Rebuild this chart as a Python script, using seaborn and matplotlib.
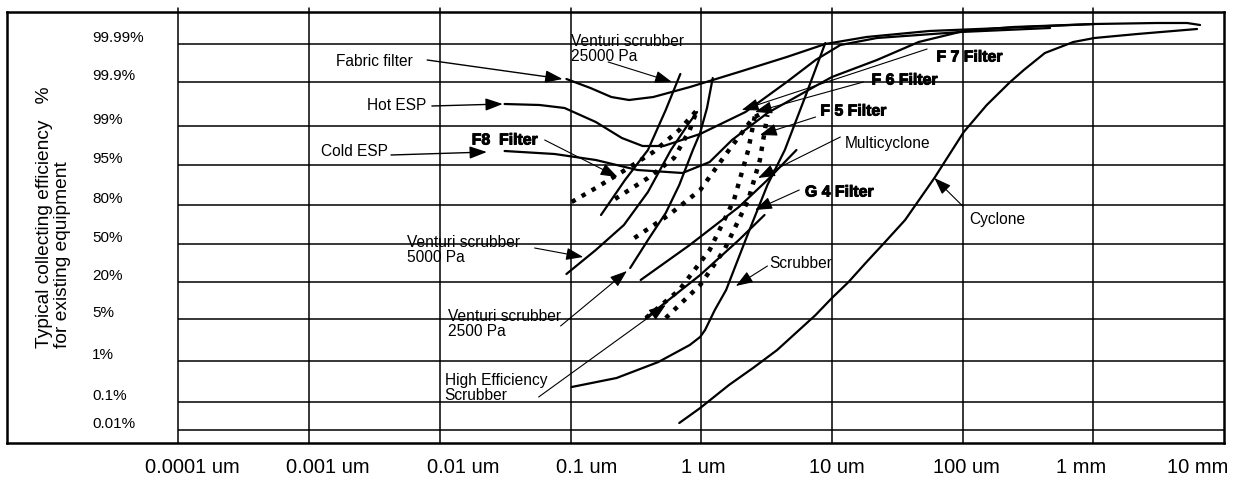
import matplotlib
matplotlib.use("Agg")
import matplotlib.pyplot as plt
import matplotlib.patheffects as pe
from matplotlib.transforms import ScaledTranslation
import seaborn as sns
import pandas as pd

sns.set_theme(style="white", rc={"axes.edgecolor": "black"})
plt.rcParams['font.family'] = ['Liberation Sans', 'DejaVu Sans']

# ---------------- axis definitions ----------------
x_tick_sizes = [1e-4, 1e-3, 1e-2, 1e-1, 1, 10, 100, 1000, 10000]
x_tick_labels = ["0.0001 um", "0.001 um", "0.01 um", "0.1 um", "1 um",
                 "10 um", "100 um", "1 mm", "10 mm"]
y_tick_labels = ["0.01%", "0.1%", "1%", "5%", "20%", "50%", "80%",
                 "95%", "99%", "99.9%", "99.99%"]
# chart efficiency scale: positions of the efficiency grid lines
y_tick_levels = [0.0, 0.70, 1.725, 2.775, 3.70, 4.65, 5.625, 6.625, 7.60, 8.70, 9.65]

# ---------------- curves (size in um, efficiency on chart scale) ----------------
fabric_size = [0.093, 0.142, 0.205, 0.28, 0.43, 0.82, 1.94, 4.51, 8.9, 18.4, 55.5, 202, 1020, 3080, 5220, 6560]
fabric_eff = [8.775, 8.55, 8.325, 8.25, 8.325, 8.575, 8.95, 9.325, 9.65, 9.825, 9.975, 10.05, 10.15, 10.175, 10.175, 10.125]

hot_esp_size = [0.0313, 0.058, 0.09, 0.156, 0.247, 0.356, 0.515, 0.98, 2.18, 4.51, 7.5, 11.6, 22.1, 96.4, 467]
hot_esp_eff = [8.15, 8.125, 8.05, 7.7, 7.3, 7.1, 7.1, 7.4, 7.95, 8.7, 9.25, 9.625, 9.8, 9.95, 10.05]

cold_esp_size = [0.0313, 0.0755, 0.156, 0.325, 0.718, 1.16, 1.72, 3.21, 7.5, 10, 22.1, 46.1, 102, 244, 1020]
cold_esp_eff = [6.975, 6.9, 6.75, 6.5, 6.425, 6.7, 7.25, 7.925, 8.6, 8.825, 9.25, 9.7, 9.975, 10.075, 10.15]

venturi25000_size = [0.171, 0.261, 0.391, 0.535, 0.692]
venturi25000_eff = [5.375, 6.25, 7.0, 8.0, 8.9]

venturi5000_size = [0.093, 0.156, 0.256, 0.391, 0.586, 0.787, 0.929]
venturi5000_eff = [3.9, 4.5, 5.125, 5.95, 7.0, 7.625, 7.95]

venturi2500_size = [0.286, 0.391, 0.535, 0.679, 0.863, 0.98, 1.107, 1.225]
venturi2500_eff = [4.05, 4.75, 5.425, 6.125, 7.0, 7.425, 8.05, 8.8]

he_scrubber_size = [0.102, 0.225, 0.47, 0.817, 0.98, 1.07, 1.27, 1.55, 2.29, 3.21, 4.36, 6.32, 8.9]
he_scrubber_eff = [1.075, 1.3, 1.7, 2.125, 2.325, 2.5, 3.0, 3.5, 4.925, 6.125, 7.0, 8.375, 9.675]

scrubber_size = [0.377, 0.982, 1.94, 3.05]
scrubber_eff = [2.8, 3.875, 4.75, 5.375]

multicyclone_size = [0.344, 0.817, 1.94, 3.21, 5.35]
multicyclone_eff = [3.75, 4.625, 5.575, 6.25, 7.0]

cyclone_size = [0.679, 0.982, 1.63, 2.49, 3.81, 7.5, 10, 13.4, 18.4, 25.1, 36.3, 60.8, 102, 153, 231, 294, 426, 703, 1020, 2170, 6220]
cyclone_eff = [0.175, 0.55, 1.125, 1.55, 2.0, 2.875, 3.3, 3.7, 4.2, 4.675, 5.25, 6.3, 7.45, 8.125, 8.7, 9.0, 9.425, 9.7, 9.8, 9.9, 10.025]

# dotted filter envelopes
f8_size = [0.102, 0.156, 0.247, 0.43, 0.679, 0.929, 0.817, 0.619, 0.391, 0.213]
f8_eff = [5.7, 6.05, 6.45, 6.95, 7.5, 8.0, 7.5, 6.8, 6.3, 5.75]

f7_size = [0.308, 0.565, 0.982, 1.63, 2.49, 3.21]
f7_eff = [4.8, 5.375, 6.0, 7.0, 7.8, 8.0]

g4_size = [0.377, 0.679, 1.16, 1.78, 2.29, 2.58]
g4_eff = [2.8, 3.5, 4.5, 5.75, 7.0, 7.875]

f5_size = [0.535, 0.982, 1.5, 2.29, 2.81, 3.21]
f5_eff = [2.8, 3.625, 4.5, 5.75, 6.75, 7.875]

solid_curves = [
    (fabric_size, fabric_eff), (hot_esp_size, hot_esp_eff), (cold_esp_size, cold_esp_eff),
    (venturi25000_size, venturi25000_eff), (venturi5000_size, venturi5000_eff),
    (venturi2500_size, venturi2500_eff), (he_scrubber_size, he_scrubber_eff),
    (scrubber_size, scrubber_eff), (multicyclone_size, multicyclone_eff),
    (cyclone_size, cyclone_eff),
]
dotted_curves = [(f8_size, f8_eff), (f7_size, f7_eff), (g4_size, g4_eff), (f5_size, f5_eff)]

# ---------------- figure ----------------
fig = plt.figure(figsize=(12.4, 4.82), dpi=100)
ax = fig.add_axes([7 / 1240, 1 - 443 / 482, (1224 - 7) / 1240, (443 - 12) / 482])
ax.set_xscale("log")
ax.set_xlim(10 ** -5.312, 1e4)
ax.set_ylim(-0.325, 10.45)

for s in ax.spines.values():
    s.set_color("black")
    s.set_linewidth(1.8)

# grid
for xv in x_tick_sizes[:-1]:
    ax.axvline(xv, ymin=0, ymax=1.01, color="black", lw=1.1, clip_on=False, zorder=1)
ax.hlines(y_tick_levels, x_tick_sizes[0], 1e4, color="black", lw=1.1, zorder=1)

# curves
for sx, sy in solid_curves:
    sns.lineplot(x=sx, y=sy, sort=False, estimator=None, ax=ax,
                 color="black", lw=1.6, zorder=3)
for sx, sy in dotted_curves:
    sns.lineplot(x=sx, y=sy, sort=False, estimator=None, ax=ax,
                 color="black", lw=3.2, zorder=3, dashes=False,
                 linestyle=(0, (1.0, 1.6)))

# ticks
ax.set_xticks(x_tick_sizes)
ax.set_xticklabels(x_tick_labels, fontsize=14.5, color="black")
ax.set_yticks([])
ax.tick_params(axis="x", length=0, pad=11)
label_shift_px = [14, 19, 23, 16, 2, 5, 4, -12, -26]
for lab, dx in zip(ax.get_xticklabels(), label_shift_px):
    lab.set_transform(lab.get_transform() + ScaledTranslation(dx / 100, 0, fig.dpi_scale_trans))
ax.set_xlabel("")
ax.set_ylabel("")

for lvl, txt in zip(y_tick_levels, y_tick_labels):
    ax.annotate(txt, xy=(0.07, lvl), xycoords=("axes fraction", "data"),
                xytext=(0, 4.5), textcoords="offset points",
                ha="left", va="center", fontsize=11, color="black")

ax.text(0.038, 0.523, "Typical collecting efficiency   %\nfor existing equipment",
        transform=ax.transAxes, rotation=90, ha="center", va="center",
        multialignment="left", fontsize=13.8, linespacing=1.1, color="black")

# annotations
def arrow(tip, start, lw=0.8):
    ax.annotate("", xy=tip, xytext=start,
                arrowprops=dict(arrowstyle="-|>,head_length=0.75,head_width=0.27",
                                lw=lw, color="black", shrinkA=0, shrinkB=0,
                                mutation_scale=14), zorder=4)

def label(pos, txt, bold=False):
    kw = dict(ha="left", va="center", fontsize=11.2, color="black", linespacing=0.95, zorder=5)
    if bold:
        kw.update(fontweight="bold", fontsize=11.4,
                  path_effects=[pe.withStroke(linewidth=0.7, foreground="black")])
    ax.text(pos[0], pos[1], txt, **kw)

label((0.00161, 9.2), "Fabric filter")
arrow((0.0869, 8.775), (0.0080, 9.25), lw=1.0)
label((0.1, 9.525), "Venturi scrubber\n25000 Pa")
arrow((0.597, 8.7), (0.194, 9.2))
label((0.00277, 8.1), "Hot ESP")
arrow((0.0303, 8.15), (0.00869, 8.1), lw=1.0)
label((0.00124, 6.95), "Cold ESP")
arrow((0.0229, 6.95), (0.00423, 6.875), lw=1.0)
label((0.01754, 7.25), "F8  Filter", bold=True)
arrow((0.229, 6.325), (0.0634, 7.25))
label((63.1, 9.325), "F 7 Filter", bold=True)
arrow((2.04, 8.0), (53.5, 9.525))
label((20.1, 8.75), "F 6 Filter", bold=True)
arrow((2.58, 7.95), (17.4, 8.7))
label((8.16, 7.975), "F 5 Filter", bold=True)
arrow((2.81, 7.375), (7.5, 7.825))
label((12.5, 7.15), "Multicyclone")
arrow((2.72, 6.3), (11.6, 7.325))
label((6.22, 5.95), "G 4 Filter", bold=True)
arrow((2.58, 5.5), (5.62, 6.0))
label((3.33, 4.15), "Scrubber")
arrow((1.84, 3.6), (3.21, 4.1))
label((112, 5.25), "Cyclone")
arrow((60.8, 6.3), (100, 5.6))
label((0.0056, 4.5), "Venturi scrubber\n5000 Pa")
arrow((0.125, 4.325), (0.0531, 4.55))
label((0.0115, 2.65), "Venturi scrubber\n2500 Pa")
arrow((0.27, 3.975), (0.0839, 2.6))
label((0.0109, 1.05), "High Efficiency\nScrubber")
arrow((0.535, 3.125), (0.057, 0.825))

fig.savefig("out.png", dpi=100)
